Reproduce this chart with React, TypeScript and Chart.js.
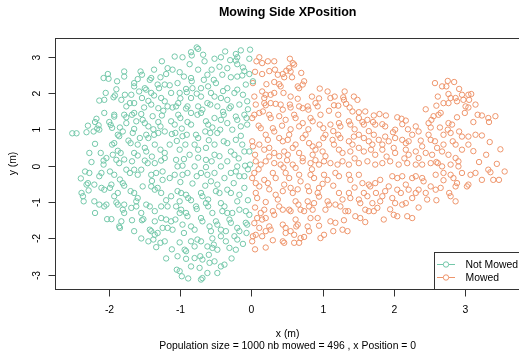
import React, { useEffect, useRef } from "react";
import { Chart, registerables } from "chart.js";

Chart.register(...registerables);

const TITLE = "Mowing Side XPosition";
const SUBTITLE = "Population size = 1000 nb mowed = 496 , x Position = 0";
const X_LABEL = "x (m)";
const Y_LABEL = "y (m)";
const xTicks = [-2, -1, 0, 1, 2, 3];
const yTicks = [-3, -2, -1, 0, 1, 2, 3];
const seriesNames = ["Not Mowed", "Mowed"];
const seriesColors = ["#74C8AA", "#EE956C"];
const xRange = [-2.763, 3.78];
const yRange = [-3.39, 3.51];

const notMowed: number[][] = [
  [-0.77,3.25],[-0.75,3.21],[-0.85,3.12],[-0.37,3.14],[-0.15,3.17],[-0.02,3.19],[-0.22,3.07],[-0.20,2.98],[-0.22,2.89],[-0.20,2.79],
  [-1.08,3.0],[-0.97,2.98],[-0.84,3.03],[-1.26,2.87],[-0.87,2.79],[-0.66,2.87],[-0.52,2.94],[-0.43,2.98],[-0.03,2.94],[-0.12,2.70],
  [-0.34,2.68],[-0.56,2.64],[-0.75,2.64],[-1.18,2.68],[-1.11,2.64],[-1.01,2.57],[-1.37,2.64],[-1.56,2.59],[-1.54,2.50],[-1.79,2.59],
  [-1.79,2.45],[-2.02,2.52],[-2.08,2.41],[-2.01,2.39],[-1.89,2.32],[-1.65,2.27],[-1.65,2.18],[-1.41,2.41],[-1.43,2.36],[-1.28,2.43],
  [-0.85,2.41],[-0.84,2.32],[-0.67,2.36],[-0.53,2.36],[-0.41,2.50],[-0.29,2.43],[-0.20,2.45],[-0.13,2.48],[-0.03,2.52],[0.02,2.32],
  [-0.08,2.23],[-0.20,2.09],[-0.24,2.0],[-0.34,2.13],[-0.50,2.27],[-0.61,2.18],[-0.71,2.13],[-0.83,2.13],[-0.92,2.11],[-0.91,2.02],
  [-1.04,2.27],[-1.15,2.21],[-1.22,2.23],[-1.32,2.23],[-1.30,2.13],[-1.50,2.13],[-1.48,2.09],[-1.58,2.04],[-1.69,1.95],[-1.78,1.95],
  [-1.92,1.93],[-1.94,1.88],[-2.14,1.79],[-2.07,1.81],[-1.83,1.81],[-1.71,1.72],[-1.76,1.63],[-1.65,1.72],[-1.54,1.86],[-1.41,2.0],
  [-1.37,1.93],[-1.27,1.86],[-1.22,1.77],[-1.13,2.0],[-1.01,2.0],[-0.85,1.86],[-0.71,1.90],[-0.57,2.0],[-0.52,1.90],[-0.43,1.86],
  [-0.34,1.81],[-0.17,1.68],[-0.06,1.77],[-0.29,1.63],[-0.31,1.58],[-0.48,1.63],[-0.62,1.72],[-0.58,1.68],[-0.75,1.63],[-0.69,1.54],
  [-0.90,1.63],[-0.92,1.57],[-1.03,1.72],[-1.06,1.63],[-1.18,1.63],[-1.11,1.60],[-1.31,1.58],[-1.24,1.51],[-1.41,1.68],[-1.51,1.60],
  [-1.65,1.45],[-1.68,1.40],[-1.79,1.40],[-1.76,1.33],[-1.93,1.40],[-1.93,1.35],[-2.07,1.45],[-2.18,1.29],[-2.20,1.20],[-2.15,1.11],
  [-2.17,1.02],[-2.22,0.94],[-2.14,0.99],[-2.52,0.89],[-2.46,0.89],[-2.32,0.92],[-1.98,1.12],[-1.96,1.04],[-1.88,0.85],[-1.86,0.81],
  [-1.81,0.94],[-1.76,1.17],[-1.62,1.22],[-1.53,1.26],[-1.50,1.17],[-1.65,1.01],[-1.67,0.90],[-1.45,1.08],[-1.39,1.36],[-1.26,1.38],
  [-1.31,1.20],[-1.28,1.08],[-1.22,0.94],[-1.13,1.22],[-1.08,1.13],[-1.03,1.40],[-1.00,1.31],[-0.90,1.20],[-0.85,1.13],[-0.76,1.40],
  [-0.71,1.45],[-0.64,1.22],[-0.61,1.13],[-0.52,1.31],[-0.43,1.26],[-0.39,1.40],[-0.34,1.17],[-0.22,1.35],[-0.20,1.26],[-0.10,1.40],
  [-0.07,1.31],[-0.15,1.08],[-0.06,1.13],[-0.27,0.99],[-0.44,0.99],[-0.48,0.90],[-0.58,0.90],[-0.65,0.94],[-0.78,0.85],[-0.75,0.76],
  [-0.91,0.85],[-0.97,0.81],[-1.07,0.90],[-1.12,0.87],[-1.31,0.90],[-1.37,0.85],[-1.48,0.85],[-1.45,0.76],[-1.57,0.76],[-1.73,0.69],
  [-1.70,0.62],[-1.93,0.62],[-1.96,0.58],[-2.12,0.35],[-2.08,0.14],[-2.04,0.21],[-1.88,0.41],[-1.84,0.35],[-1.79,0.17],[-1.65,0.35],
  [-1.60,0.28],[-1.50,0.49],[-1.48,0.39],[-1.36,0.58],[-1.28,0.44],[-1.22,0.35],[-1.15,0.58],[-1.01,0.44],[-0.93,0.58],[-0.87,0.30],
  [-0.80,0.58],[-0.75,0.44],[-0.64,0.49],[-0.52,0.58],[-0.39,0.67],[-0.34,0.62],[-0.22,0.71],[-0.29,0.39],[-0.24,0.30],[-0.13,0.58],
  [-0.10,0.39],[-0.03,0.39],[-0.52,0.30],[-0.45,0.26],[-0.64,0.16],[-0.34,0.12],[-1.50,0.14],[-1.46,0.07],[-1.22,0.21],[-1.27,0.14],
  [-1.06,0.16],[-1.68,0.12],[-1.90,0.16],[-1.86,0.07],
  [-2.08,0.03],[-1.36,0.07],[-1.04,-0.02],[-0.97,0.0],[-0.80,-0.02],[-0.64,-0.04],[-0.56,0.12],[-0.43,-0.02],[-0.20,-0.02],[-0.22,-0.16],
  [-0.09,0.0],[-0.02,0.03],[-2.34,-0.16],[-2.28,-0.20],[-2.11,-0.20],[-2.14,-0.29],[-1.99,-0.16],[-1.93,-0.25],[-1.76,-0.11],[-1.71,-0.20],
  [-1.65,-0.11],[-1.60,-0.25],[-1.55,-0.11],[-1.41,-0.25],[-1.34,-0.20],[-1.25,-0.16],[-1.15,-0.34],[-1.08,-0.25],[-0.97,-0.25],[-0.90,-0.20],
  [-0.71,-0.20],[-0.77,-0.29],[-0.62,-0.25],[-0.52,-0.20],[-0.38,-0.34],[-0.29,-0.20],[-0.17,-0.29],[-0.10,-0.29],[-2.30,-0.48],[-2.32,-0.52],
  [-2.21,-0.52],[-2.11,-0.61],[-2.07,-0.66],[-2.39,-0.75],[-2.37,-0.84],[-2.36,-0.98],[-2.29,-0.68],[-1.97,-0.52],[-1.99,-0.61],[-1.81,-0.48],
  [-1.79,-0.55],[-1.88,-0.75],[-1.93,-0.84],[-1.70,-0.70],[-1.65,-0.75],[-1.60,-0.89],[-1.62,-0.98],[-1.53,-0.57],[-1.41,-0.57],[-1.36,-0.66],
  [-1.32,-0.61],[-1.27,-0.75],[-1.25,-0.39],[-1.13,-0.84],[-1.04,-0.70],[-0.99,-0.75],[-0.92,-0.80],[-0.89,-0.89],[-0.83,-0.49],[-0.71,-0.75],
  [-0.69,-0.84],[-0.61,-0.93],[-0.57,-0.43],[-0.48,-0.52],[-0.50,-0.70],[-0.45,-0.75],[-0.34,-0.66],[-0.29,-0.75],[-0.17,-0.80],[-0.10,-0.61],
  [-2.21,-0.98],[-2.14,-1.07],[-2.04,-1.07],[-2.07,-1.12],[-1.90,-1.01],[-1.88,-1.07],[-1.79,-1.07],[-1.81,-1.21],[-1.79,-1.30],[-1.69,-1.16],
  [-1.62,-1.12],[-1.48,-1.07],[-1.43,-1.12],[-1.36,-1.25],[-1.27,-1.12],[-1.18,-1.12],[-1.06,-1.12],[-1.01,-0.98],[-0.99,-1.21],[-0.92,-1.30],
  [-0.90,-1.39],[-0.78,-1.12],[-0.77,-1.19],[-0.64,-1.03],[-0.61,-1.12],[-0.43,-1.03],[-0.38,-1.12],[-0.41,-1.25],[-0.34,-1.30],[-0.27,-1.30],
  [-0.20,-0.98],[-0.17,-1.21],[-0.08,-1.25],[-0.03,-1.35],[-2.03,-1.47],[-1.97,-1.47],[-1.83,-1.53],[-1.86,-1.67],[-1.85,-1.71],[-1.68,-1.50],
  [-1.54,-1.50],[-1.52,-1.47],[-1.36,-1.53],[-1.27,-1.44],[-1.20,-1.48],[-1.13,-1.53],[-1.07,-1.48],[-1.01,-1.30],[-0.97,-1.62],[-0.85,-1.67],
  [-0.80,-1.76],[-0.71,-1.44],[-0.69,-1.53],[-0.59,-1.67],[-0.57,-1.80],[-0.50,-1.53],[-0.48,-1.62],[-0.43,-1.76],[-0.36,-1.80],[-0.31,-1.48],
  [-0.29,-1.57],[-0.20,-1.71],[-0.17,-1.80],[-0.08,-1.57],[-0.06,-1.62],[-1.43,-1.76],[-1.41,-1.80],[-1.36,-1.90],[-1.32,-1.85],[-1.25,-1.71],
  [-1.18,-1.71],[-1.11,-1.76],[-1.45,-2.08],[-1.38,-2.03],[-1.34,-2.24],[-1.28,-2.12],[-1.22,-2.08],[-1.01,-2.11],[-0.94,-2.31],[-0.92,-2.35],
  [-0.85,-2.08],[-0.80,-2.22],[-0.76,-2.03],[-0.71,-2.08],[-0.62,-2.22],[-0.55,-2.26],[-0.48,-2.31],[-0.53,-2.17],[-0.43,-1.94],[-0.36,-2.08],
  [-0.24,-1.94],[-0.20,-2.03],[-0.31,-2.26],[-0.22,-2.31],[-0.07,-1.85],[-1.04,-2.49],[-0.92,-2.56],[-0.80,-2.54],[-0.72,-2.49],[-0.69,-2.58],
  [-0.59,-2.67],[-0.52,-2.63],[-0.43,-2.77],[-0.38,-2.72],[-0.85,-2.77],[-0.73,-2.81],[-1.05,-2.86],[-1.01,-2.90],[-0.98,-3.04],[-0.89,-3.10],
  [-0.71,-3.13],[-0.69,-3.09],
  [-1.60,2.38],[-1.20,2.52],[-0.95,2.45],[-0.62,2.50],[-0.45,2.72],[-0.68,3.05],[-0.30,2.90],[-0.10,2.60],[-1.90,2.10],[-2.05,2.00],
  [-1.45,1.78],[-1.00,1.85],[-0.77,1.98],[-0.40,2.05],[-0.12,1.95],[-0.05,1.55],[-0.40,1.48],[-0.85,1.45],[-1.55,1.42],[-2.00,1.20],
  [-2.30,1.10],[-1.85,1.05],[-1.38,1.00],[-0.98,1.02],[-0.55,1.05],[-0.15,0.82],[-0.60,0.70],[-1.05,0.68],[-1.60,0.58],[-2.20,0.60],
  [-2.28,0.35],[-1.95,0.30],[-1.40,0.25],[-0.95,0.18],[-0.75,0.22],[-0.18,0.20],[-2.25,0.10],[-2.40,-0.35],[-1.85,-0.38],[-1.40,-0.42],
  [-1.00,-0.45],[-0.65,-0.55],[-0.25,-0.48],[-0.05,-0.10],[-0.05,-0.95],[-0.55,-1.30],[-0.85,-0.95],[-1.20,-0.95],[-1.55,-1.30],[-2.20,-1.30],
  [-1.65,-1.80],[-1.55,-2.00],[-1.12,-2.30],[-1.20,-2.55],[-0.60,-2.45],[-0.28,-2.55],[-0.12,-2.15],[-0.55,-2.00],[-0.95,-1.85],[-0.62,-2.95],
  [-0.48,-2.95]
];

const mowed: number[][] = [
  [0.11,2.98],[0.07,2.87],[0.15,2.82],[0.23,2.87],[0.32,2.87],[0.54,2.94],[0.58,2.82],[0.60,2.78],[0.53,2.68],[0.49,2.61],
  [0.55,2.59],[0.33,2.64],[0.37,2.50],[0.44,2.52],[0.46,2.43],[0.57,2.43],[0.15,2.52],[0.02,2.27],[0.04,1.90],[0.21,2.24],
  [0.32,2.30],[0.39,2.24],[0.15,2.04],[0.20,1.95],[0.18,1.86],[0.27,1.95],[0.32,2.0],[0.41,2.18],[0.65,2.18],[0.72,2.23],
  [0.74,2.32],[0.67,2.13],[0.65,1.84],[0.96,2.12],[1.07,2.04],[1.11,1.86],[1.17,1.90],[1.31,2.04],[1.29,1.88],[1.30,1.81],
  [1.44,1.90],[1.49,1.81],[0.06,1.68],[0.18,1.72],[0.20,1.66],[0.27,1.72],[0.34,1.70],[0.41,1.68],[0.44,1.54],[0.54,1.68],
  [0.55,1.60],[0.67,1.63],[0.72,1.58],[0.79,1.63],[0.80,1.54],[0.90,1.72],[0.93,1.63],[0.97,1.40],[1.09,1.51],[1.16,1.66],
  [1.22,1.40],[1.33,1.70],[1.38,1.60],[1.42,1.49],[1.51,1.47],[1.60,1.49],[1.72,1.38],[1.80,1.42],[1.89,1.38],[1.63,1.26],
  [2.05,1.33],[2.11,1.29],[2.17,1.24],[0.04,1.40],[0.01,1.31],[0.11,1.45],[0.16,1.49],[0.25,1.40],[0.27,1.31],[0.39,1.36],
  [0.48,1.26],[0.60,1.40],[0.62,1.31],[0.72,1.17],[0.67,1.08],[0.83,1.31],[0.86,1.22],[0.96,1.13],[1.01,1.03],[1.11,1.13],
  [1.23,1.17],[1.25,1.08],[1.37,1.22],[1.39,1.13],[1.51,1.31],[1.56,1.20],[1.58,1.13],[1.71,1.20],[1.74,1.13],[1.84,1.14],
  [1.88,1.08],[2.02,0.99],[1.99,0.92],[2.12,1.14],[2.31,1.08],[2.35,0.94],[2.49,1.17],[2.52,1.05],[2.53,1.26],[2.56,1.36],
  [2.63,1.40],[2.66,1.45],[2.58,2.27],[2.68,2.18],[2.74,2.18],[2.76,2.33],[2.77,1.97],[2.80,1.86],[2.70,1.72],[2.77,1.72],
  [2.92,2.11],[2.96,1.95],[2.87,1.86],[2.89,1.77],[3.05,1.95],[3.09,1.97],[2.98,1.81],[3.06,1.81],[3.01,1.63],[3.05,1.60],
  [3.15,1.68],[2.89,1.33],[3.00,1.45],[3.18,1.40],[3.24,1.38],[3.33,1.31],[3.43,1.36],[3.34,1.20],[2.77,1.17],[2.82,1.13],
  [2.76,0.99],[2.80,0.90],[2.92,0.94],[2.70,0.85],[2.96,0.80],[3.05,0.80],[3.15,0.85],[3.24,0.83],[3.05,0.58],[2.96,0.44],
  [2.83,0.67],[2.87,0.58],[2.70,0.58],[2.61,0.49],[2.58,0.67],[2.49,0.85],[2.52,0.71],[2.40,0.53],[2.45,0.35],[2.26,0.85],
  [2.38,0.69],[2.21,0.67],[2.17,0.62],[2.12,0.71],[2.02,0.76],[1.93,0.67],[2.00,0.49],[2.02,0.35],[1.88,0.80],[1.84,0.58],
  [1.72,0.85],[1.79,0.71],[1.65,0.67],[1.70,0.58],[1.58,0.76],[1.51,0.85],[1.44,0.80],[1.37,0.67],[1.42,0.58],[1.25,0.76],
  [1.22,0.85],[1.14,0.71],[1.16,0.58],[1.04,0.85],[1.01,0.76],[0.95,0.58],[0.90,0.44],[0.81,0.62],[0.86,0.53],[0.72,0.76],
  [0.76,0.85],[0.62,0.58],[0.58,0.49],[0.51,0.71],[0.53,0.85],[0.39,0.76],[0.44,0.67],[0.30,1.03],[0.32,0.94],[0.20,0.85],
  [0.23,0.71],[0.13,1.03],[0.11,0.58],[0.01,0.67],[0.02,0.53],[0.18,0.44],[0.25,0.49],[0.32,0.35],[0.39,0.26],[0.46,0.39],
  [0.51,0.30],[0.67,0.35],[0.72,0.21],[0.86,0.30],[1.00,0.39],[1.04,0.26],[1.23,0.44],[1.28,0.35],[1.39,0.39],[1.51,0.49],
  [1.58,0.39],[1.68,0.44],[1.74,0.30],[1.84,0.44],[2.17,0.44],[2.21,0.30],[2.31,0.39],[2.35,0.21],[2.54,0.30],[2.68,0.39],
  [2.77,0.30],[2.87,0.21],[2.91,0.12],
  [0.06,0.12],[0.13,0.03],[0.20,0.12],[0.32,0.07],[0.41,0.03],[0.58,0.03],[0.62,-0.06],[0.72,0.12],[0.83,0.07],[0.95,0.03],
  [1.02,0.12],[1.11,0.07],[1.21,0.03],[1.28,0.12],[1.37,0.03],[1.51,0.07],[1.63,0.12],[1.74,0.03],[1.84,0.07],[1.95,0.12],
  [2.07,0.03],[2.19,0.07],[2.31,0.03],[2.40,0.03],[2.52,0.07],[2.62,0.07],[2.68,-0.02],[2.80,0.03],[2.91,-0.02],[2.96,-0.20],
  [3.08,-0.25],[3.15,-0.20],[3.24,-0.39],[3.33,-0.11],[3.36,-0.18],[3.40,-0.39],[3.48,-0.39],[3.56,-0.16],[3.03,-0.57],[3.05,-0.52],
  [2.89,-0.48],[2.87,-0.57],[2.80,-0.84],[2.87,-0.98],[2.78,-0.75],[2.66,-0.61],[2.59,-0.66],[2.52,-0.57],[2.45,-0.75],[2.47,-0.93],
  [2.35,-0.66],[2.31,-0.75],[2.21,-0.66],[2.26,-0.89],[2.17,-1.03],[2.12,-1.07],[2.10,-0.75],[2.05,-0.66],[1.98,-0.89],[2.02,-1.03],
  [2.00,-1.35],[2.05,-1.39],[2.19,-1.39],[2.26,-1.44],[1.93,-0.57],[1.88,-0.70],[1.81,-0.39],[1.74,-0.48],[1.84,-0.84],[1.81,-0.98],
  [1.70,-1.03],[1.77,-1.16],[1.72,-1.25],[1.86,-1.48],[1.58,-0.75],[1.63,-0.84],[1.51,-0.93],[1.53,-1.03],[1.46,-1.39],[1.53,-1.44],
  [1.60,-1.21],[1.65,-1.25],[1.37,-0.75],[1.39,-0.89],[1.23,-0.75],[1.28,-0.93],[1.18,-1.07],[1.25,-1.12],[1.32,-1.25],[1.36,-1.25],
  [1.07,-0.98],[1.09,-1.07],[1.04,-1.21],[1.11,-1.53],[1.18,-1.57],[1.28,-1.76],[1.35,-1.80],[1.02,-0.25],[1.07,-0.39],[0.93,-0.75],
  [0.95,-0.61],[0.88,-1.03],[0.86,-1.21],[0.79,-0.98],[0.81,-1.12],[0.69,-1.21],[0.74,-1.25],[0.83,-1.44],[0.93,-1.44],[0.79,-1.67],
  [0.81,-1.80],[0.97,-1.99],[1.02,-1.90],[0.69,-1.99],[0.74,-1.96],[0.60,-2.12],[0.67,-2.12],[0.55,-1.80],[0.48,-1.85],[0.44,-1.62],
  [0.48,-1.71],[0.62,-1.48],[0.65,-1.62],[0.63,-1.67],[0.53,-1.21],[0.55,-1.25],[0.62,-0.98],[0.66,-1.07],[0.58,-0.75],[0.55,-0.61],
  [0.46,-0.52],[0.44,-0.70],[0.34,-0.80],[0.37,-0.93],[0.39,-1.12],[0.44,-1.21],[0.30,-1.25],[0.32,-1.35],[0.18,-1.21],[0.13,-1.30],
  [0.20,-1.44],[0.15,-1.48],[0.25,-1.67],[0.27,-1.76],[0.20,-1.80],[0.08,-1.44],[0.04,-1.58],[0.11,-1.71],[0.06,-1.90],[0.01,-2.08],
  [0.02,-1.94],[0.44,-2.08],[0.46,-2.12],[0.15,-1.94],[0.06,-0.75],[0.08,-0.89],[0.11,-0.57],[0.06,-0.48],[0.18,-0.39],[0.23,-0.48],
  [0.04,-0.20],[0.01,-0.34],[0.30,-0.20],[0.34,-0.34],[0.48,-0.20],[0.53,-0.34],[0.67,-0.25],[0.69,-0.43],[0.79,-0.57],[0.81,-0.70],
  [0.83,-0.25],[0.88,-0.34],[1.18,-0.20],[1.23,-0.29],[1.37,-0.25],[1.39,-0.39],[1.51,-0.25],[1.56,-0.48],[1.65,-0.52],[1.67,-0.57],
  [1.98,-0.29],[2.05,-0.34],[2.12,-0.29],[2.17,-0.52],[2.26,-0.34],[2.31,-0.29],[2.40,-0.34],[2.42,-0.43],[2.59,-0.25],[2.70,-0.20],
  [2.80,-0.25],[2.84,-0.34],
  [0.05,2.58],[0.25,2.60],[0.70,2.55],[0.45,2.00],[0.55,1.90],[0.85,1.90],[0.95,1.85],[1.22,1.65],[0.10,1.10],[0.43,1.10],
  [0.55,1.00],[0.80,1.00],[1.15,0.95],[1.45,1.00],[1.65,0.95],[2.20,1.00],[2.45,1.55],[2.60,1.65],[2.62,1.90],[2.85,2.30],
  [3.12,1.20],[2.65,1.05],[3.35,0.65],[3.50,0.45],[3.30,0.30],[3.12,0.40],[3.20,0.10],[3.45,0.05],[2.60,0.10],[2.15,0.20],
  [1.90,0.25],[1.45,0.20],[0.90,0.15],[0.50,0.15],[0.25,0.25],[0.05,0.30],[0.10,-0.10],[0.45,-0.05],[0.85,-0.10],[1.00,-0.50],
  [0.65,-0.65],[0.25,-0.65],[0.20,-1.00],[0.05,-1.15],[0.95,-0.85],[1.15,-0.55],[1.45,-0.60],[1.75,-0.75],[1.95,-1.20],[2.35,-1.15],
  [2.60,-0.95],[2.70,-0.40],[1.30,-1.50],[0.95,-1.65],[0.30,-2.05],[0.20,-2.25],[0.05,-2.30],[0.60,-1.90],[1.15,-1.80],[1.60,-1.55]
];

const FONT = "'Liberation Sans', Arial, Helvetica, sans-serif";
const CANVAS_W = 524;
const CANVAS_H = 351;

const rAxesPlugin = {
  id: "rAxes",
  afterDraw(chart: any) {
    const ctx: CanvasRenderingContext2D = chart.ctx;
    const a = chart.chartArea;
    const xs = chart.scales.x;
    const ys = chart.scales.y;
    const cx = (a.left + a.right) / 2;
    const cy = (a.top + a.bottom) / 2;
    ctx.save();
    ctx.strokeStyle = "#333";
    ctx.lineWidth = 1;
    const lgLeft = 434.5;
    const lgTop = 252.5;
    ctx.fillStyle = "#fff";
    ctx.fillRect(lgLeft, lgTop, a.right - lgLeft, a.bottom - lgTop);
    ctx.strokeRect(lgLeft, lgTop, a.right - lgLeft, Math.round(a.bottom) - lgTop + 0.5);
    const L = Math.round(a.left) + 0.5;
    const T = Math.round(a.top) + 0.5;
    const R = Math.round(a.right) + 0.5;
    const B = Math.round(a.bottom) + 0.5;
    ctx.strokeRect(L, T, R - L, B - T);
    ctx.fillStyle = "#000";
    ctx.font = `10.4px ${FONT}`;
    ctx.textAlign = "center";
    ctx.textBaseline = "middle";
    xTicks.forEach((v) => {
      const px = Math.round(xs.getPixelForValue(v)) + 0.5;
      ctx.beginPath();
      ctx.moveTo(px, B);
      ctx.lineTo(px, B + 7);
      ctx.stroke();
      ctx.fillText(String(v), px, B + 21);
    });
    yTicks.forEach((v) => {
      const py = Math.round(ys.getPixelForValue(v)) + 0.5;
      ctx.beginPath();
      ctx.moveTo(L - 7, py);
      ctx.lineTo(L, py);
      ctx.stroke();
      ctx.save();
      ctx.translate(L - 18, py);
      ctx.rotate(-Math.PI / 2);
      ctx.fillText(String(v), 0, 0);
      ctx.restore();
    });
    ctx.fillText(X_LABEL, cx, 334);
    ctx.fillText(SUBTITLE, cx, 346);
    ctx.save();
    ctx.translate(13, cy);
    ctx.rotate(-Math.PI / 2);
    ctx.fillText(Y_LABEL, 0, 0);
    ctx.restore();
    ctx.font = `bold 12.5px ${FONT}`;
    ctx.fillText(TITLE, cx, 13);
    ctx.font = `10.4px ${FONT}`;
    ctx.textAlign = "left";
    seriesNames.forEach((name, i) => {
      const y = 264.5 + i * 13;
      ctx.strokeStyle = seriesColors[i];
      ctx.beginPath();
      ctx.moveTo(437, y);
      ctx.lineTo(455, y);
      ctx.stroke();
      ctx.beginPath();
      ctx.arc(446, y, 2.7, 0, Math.PI * 2);
      ctx.fillStyle = "#fff";
      ctx.fill();
      ctx.stroke();
      ctx.fillStyle = "#000";
      ctx.fillText(name, 465.5, y + 0.5);
    });
    ctx.restore();
  },
};

export default function App() {
  const ref = useRef<HTMLCanvasElement | null>(null);
  useEffect(() => {
    if (!ref.current) return;
    const toPts = (arr: number[][]) => arr.map(([x, y]) => ({ x, y }));
    const chart = new Chart(ref.current, {
      type: "scatter",
      data: {
        datasets: [notMowed, mowed].map((arr, i) => ({
          label: seriesNames[i],
          data: toPts(arr),
          showLine: false,
          pointRadius: 2.7,
          pointHoverRadius: 2.7,
          pointBorderWidth: 1,
          pointBackgroundColor: "rgba(0,0,0,0)",
          pointBorderColor: seriesColors[i],
          borderColor: seriesColors[i],
        })),
      },
      options: {
        responsive: false,
        animation: false,
        devicePixelRatio: 1,
        events: [],
        layout: { padding: { left: 55, top: 38, right: CANVAS_W - 522, bottom: CANVAS_H - 289 } },
        plugins: { legend: { display: false }, tooltip: { enabled: false }, title: { display: false } },
        scales: {
          x: { type: "linear", min: xRange[0], max: xRange[1], display: false },
          y: { type: "linear", min: yRange[0], max: yRange[1], display: false },
        },
      },
      plugins: [rAxesPlugin],
    });
    return () => chart.destroy();
  }, []);
  return (
    <div style={{ position: "fixed", left: 0, top: 0, width: 519, height: 351, overflow: "hidden", background: "#fff" }}>
      <canvas ref={ref} width={CANVAS_W} height={CANVAS_H} style={{ display: "block" }} />
    </div>
  );
}
